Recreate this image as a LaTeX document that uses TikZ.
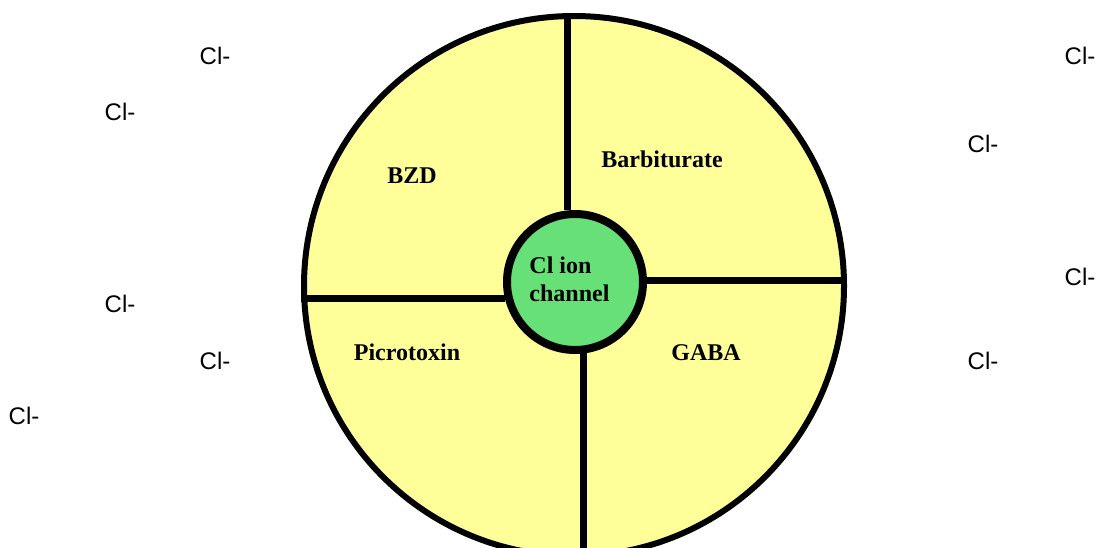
\documentclass[tikz,border=0pt]{standalone}
\usepackage{fontspec}
\setmainfont{Liberation Serif}
\newfontfamily\ionfont{Liberation Sans}
\usepackage{xcolor}
\definecolor{padyellow}{RGB}{255,255,153}
\definecolor{chgreen}{RGB}{104,224,120}

\begin{document}
\begin{tikzpicture}[x=0.5pt,y=-0.5pt,
  ion/.style={font=\ionfont\fontsize{12}{14}\selectfont,inner sep=0pt},
  site/.style={font=\bfseries\fontsize{12}{14}\selectfont,inner sep=0pt},
  divider/.style={line width=3.5pt}]
\useasboundingbox (0,0) rectangle (1097,547);
\node[circle,draw,line width=3pt,fill=padyellow,minimum size=270pt,inner sep=0pt] (ring) at (574,286) {};
\node[circle,draw,line width=4pt,fill=chgreen,minimum size=68pt,inner sep=0pt] (chan) at (575,282) {};
\node[site,align=left] (chantxt) at (569.5,279) {Cl ion\\channel};
% walls between the four binding sites
\draw[divider] (chan.96) -- (chan.96 |- ring.north);
\draw[divider] (chan.193.6) -- (chan.193.6 -| ring.west);
\draw[divider] (chan.1) -- (chan.1 -| ring.east);
\draw[divider] (chan.277) -- (chan.277 |- ring.south);
\node[site] (bzd) at (412,176) {BZD};
\node[site] (barb) at (662,159) {Barbiturate};
\node[site] (picro) at (407,352) {Picrotoxin};
\node[site] (gaba) at (706,353) {GABA};
% chloride ions
\foreach \x/\y [count=\i] in {215/56,120/112,120/304,215/361,24/416,1080/56,983/144,1080/277,983/361}
  \node[ion] (cl\i) at (\x,\y) {Cl-};
\end{tikzpicture}
\end{document}
